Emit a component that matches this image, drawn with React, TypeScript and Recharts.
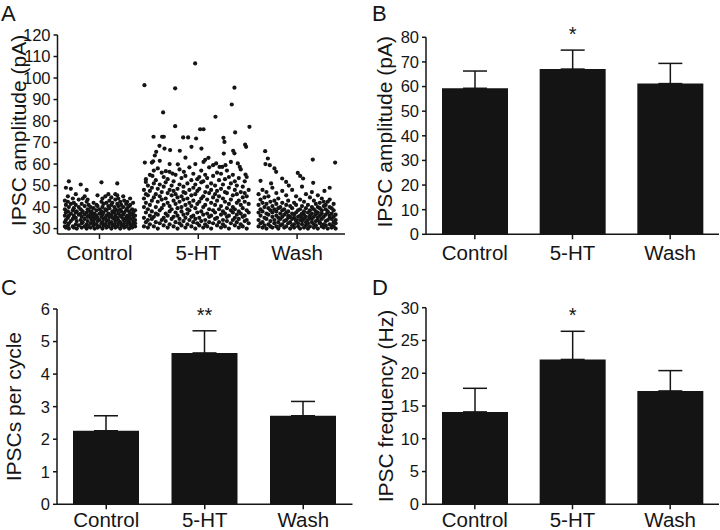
import React from 'react'
import { ScatterChart, Scatter, BarChart, Bar, XAxis, YAxis, ErrorBar, LabelList } from 'recharts'

const FONT = '"Liberation Sans", Arial, Helvetica, sans-serif'
const INK = '#151515'

const groups = ['Control', '5-HT', 'Wash']

// Panel A: each row = [x position, IPSC amplitudes (pA) at that x]
const controlCols: [number, number[]][] = [
  [0.65, [31, 33, 36, 39, 43]],
  [0.66, [30.5, 34, 37.5, 41, 49]],
  [0.68, [31.5, 35, 38, 42.5, 45]],
  [0.69, [30, 32.5, 36, 40, 52]],
  [0.71, [33.5, 37, 41.5, 48.5]],
  [0.73, [31, 34.5, 38.5, 44]],
  [0.74, [30.5, 36, 39.5, 42]],
  [0.76, [32, 35, 37.5, 41, 46]],
  [0.77, [30, 33.5, 38]],
  [0.79, [31.5, 36.5, 40, 43.5]],
  [0.81, [34, 37, 39, 50.5]],
  [0.82, [30.5, 32.5, 35.5, 41.5]],
  [0.83, [33, 38, 44]],
  [0.85, [31, 34.5, 36.5, 40.5, 45]],
  [0.87, [30, 32, 37.5, 42.5, 48]],
  [0.88, [33.5, 35.5, 39, 43.5]],
  [0.89, [31, 36, 38.5, 41]],
  [0.91, [30.5, 32.5, 35, 37.5, 40]],
  [0.92, [34, 36.5, 38]],
  [0.94, [31.5, 33, 35.5, 39.5, 42]],
  [0.95, [30, 34.5, 37]],
  [0.97, [32, 36, 38.5, 41]],
  [0.98, [30.5, 33.5, 35, 40.5, 45.5]],
  [1.0, [31, 34, 37, 39]],
  [1.02, [32.5, 35.5, 38, 42.5, 51.5]],
  [1.03, [30, 33, 36.5, 40, 44]],
  [1.04, [31.5, 34.5, 37.5, 41.5]],
  [1.06, [32, 35, 39, 45]],
  [1.07, [30.5, 33.5, 36, 38.5, 42]],
  [1.09, [31, 34, 37, 40.5, 46]],
  [1.1, [32.5, 35.5, 39.5, 43]],
  [1.12, [30, 33, 36.5, 41, 44.5]],
  [1.13, [31.5, 35, 38, 42]],
  [1.15, [32, 34.5, 37.5, 40]],
  [1.16, [30.5, 33.5, 36, 39, 43.5, 46]],
  [1.18, [31, 35, 38.5, 41.5, 45.5, 51]],
  [1.19, [32.5, 34, 37, 40.5, 44]],
  [1.21, [30, 33, 36, 39, 42.5]],
  [1.22, [31.5, 35.5, 38, 41]],
  [1.24, [32, 34.5, 36.5, 40, 45]],
  [1.25, [30.5, 33.5, 37.5, 43]],
  [1.27, [31, 35, 38.5, 41.5]],
  [1.28, [32.5, 34, 36, 39.5, 42.5]],
  [1.3, [30, 33, 35.5, 38, 40.5]],
  [1.31, [31.5, 34.5, 37, 41, 44]],
  [1.33, [30.5, 32, 36.5, 39]],
  [1.34, [33.5, 35, 37.5, 42]],
  [1.36, [31, 32.5, 34, 36, 38.5]],
]

const htCols: [number, number[]][] = [
  [1.45, [31, 35, 40, 44, 48]],
  [1.47, [33, 37.5, 42, 46, 53]],
  [1.49, [30.5, 34, 39, 45.5, 50]],
  [1.51, [32, 36, 41, 47.5, 55]],
  [1.53, [34.5, 38, 43, 49]],
  [1.55, [31, 35.5, 44.5, 51, 57]],
  [1.57, [33, 37, 40, 46, 52.5]],
  [1.59, [30, 36.5, 42.5, 48.5, 58]],
  [1.61, [32.5, 38.5, 45, 50.5, 61.5]],
  [1.63, [34, 39.5, 43.5, 47, 56]],
  [1.65, [31.5, 35, 41, 49.5, 54]],
  [1.67, [33.5, 37, 44, 51.5]],
  [1.69, [30.5, 36, 42, 46.5, 53]],
  [1.71, [32, 38, 40.5, 48, 60]],
  [1.73, [34.5, 39, 45.5, 50]],
  [1.75, [31, 35.5, 43, 47.5, 52]],
  [1.77, [33, 37.5, 41.5, 46, 55]],
  [1.79, [30, 36, 39.5, 44.5, 48.5]],
  [1.81, [32.5, 34.5, 42.5, 50.5, 57.5]],
  [1.83, [31.5, 38, 40, 45, 53.5]],
  [1.85, [33.5, 36.5, 43.5, 47, 49.5]],
  [1.87, [30.5, 35, 41, 46.5, 54.5, 63]],
  [1.89, [32, 37, 39, 44, 51]],
  [1.91, [34, 38.5, 42, 48, 58.5]],
  [1.93, [31, 35.5, 40.5, 45.5, 52.5]],
  [1.95, [33, 36, 43, 49, 55.5]],
  [1.97, [30, 34.5, 39.5, 46, 50.5, 60]],
  [1.99, [32.5, 37.5, 41.5, 47.5, 53]],
  [2.01, [31.5, 35, 42.5, 48.5, 54]],
  [2.03, [33.5, 38, 44, 51.5, 57]],
  [2.05, [30.5, 36.5, 40, 45, 52]],
  [2.07, [32, 34, 41, 47, 55, 62]],
  [2.09, [31, 37, 43.5, 49.5, 53.5]],
  [2.11, [33, 35.5, 39, 46.5, 58.5]],
  [2.13, [30, 36, 42, 48, 51]],
  [2.15, [32.5, 38.5, 44.5, 54.5, 59.5]],
  [2.17, [34.5, 37.5, 41, 46, 50]],
  [2.19, [31.5, 35, 43, 47.5, 56]],
  [2.21, [33, 39, 45, 52.5]],
  [2.23, [30.5, 36.5, 40.5, 48.5, 55.5]],
  [2.25, [32, 34, 38, 44, 50.5]],
  [2.27, [31, 37, 42.5, 47, 53]],
  [2.29, [33.5, 35.5, 39.5, 46.5, 57]],
  [2.31, [30, 36, 41.5, 49, 54]],
  [2.33, [32.5, 38.5, 43.5, 51, 61]],
  [2.35, [34, 37.5, 40, 45.5, 55]],
  [2.37, [31.5, 35, 39, 48, 52]],
  [2.39, [33, 36.5, 42, 46, 50]],
  [2.41, [30.5, 34.5, 38, 43, 53.5]],
  [2.43, [32, 37, 41, 47, 57.5]],
  [2.45, [31, 35.5, 39.5, 44.5, 49.5]],
  [2.47, [33.5, 36, 42.5, 46.5, 52]],
  [2.49, [30, 34, 38.5, 45, 54]],
  [2.51, [32.5, 37.5, 41.5, 48]],
]

// sparse high-amplitude events during 5-HT
const htHigh: [number, number][] = [
  [1.455, 96.7], [1.968, 106.8], [1.766, 95.2], [2.366, 95.5], [2.339, 87.7],
  [1.644, 84], [2.174, 82], [1.766, 77.6], [2.019, 76.2], [2.053, 76.2],
  [2.518, 77.3], [2.373, 74.7], [1.547, 72.7], [1.634, 72.7], [1.651, 72.7],
  [1.847, 72.4], [1.897, 72.4], [1.978, 71.9], [2.255, 72.2], [2.265, 70.3],
  [1.931, 68], [2.032, 67.2], [2.474, 69], [2.484, 68], [1.607, 68.5],
  [1.658, 67.2], [1.574, 65.7], [1.56, 64], [1.715, 66.5], [1.813, 66.2],
  [2.258, 64.9], [2.353, 66.2], [2.366, 65], [1.459, 60.7], [1.53, 60.7],
  [1.543, 61.3], [1.793, 59.9], [1.854, 56.4], [2.103, 62.9], [2.053, 61],
  [2.181, 60.3], [2.215, 58.7], [2.242, 58.7], [2.275, 59.5], [2.4, 60.3],
  [2.42, 58.7], [2.478, 55.1], [1.671, 56.7], [1.708, 56.4], [1.739, 55.6],
  [1.536, 54.5], [1.469, 51.7],
]

const washCols: [number, number[]][] = [
  [2.61, [31, 34, 37.5, 41, 46]],
  [2.63, [32.5, 36, 39, 43.5]],
  [2.65, [30.5, 33, 38, 42, 48]],
  [2.67, [31.5, 35, 40, 44.5]],
  [2.69, [30, 34.5, 37, 41.5, 47]],
  [2.71, [32, 36.5, 39.5, 45]],
  [2.73, [31, 33.5, 38.5, 42.5]],
  [2.75, [30.5, 35.5, 37.5, 40.5, 49]],
  [2.77, [32.5, 34, 39, 43]],
  [2.79, [31, 36, 38, 41.5, 46.5]],
  [2.81, [30, 33, 35, 39.5, 44]],
  [2.83, [31.5, 34.5, 37, 40]],
  [2.85, [32, 35.5, 38.5, 42, 47.5]],
  [2.87, [30.5, 33.5, 36.5, 39]],
  [2.89, [31, 34, 37.5, 41, 45.5]],
  [2.91, [32.5, 35, 36, 38, 43]],
  [2.93, [30, 33, 35.5, 40.5]],
  [2.95, [31.5, 34.5, 37, 39.5, 48]],
  [2.97, [30.5, 32, 35, 36.5, 42]],
  [2.99, [33.5, 34, 37.5, 41, 45]],
  [3.01, [31, 32.5, 35.5, 38.5]],
  [3.03, [30, 34, 36, 39, 43.5]],
  [3.05, [32, 33.5, 35, 37, 40.5, 49.5]],
  [3.07, [30.5, 34.5, 36.5, 38, 42.5]],
  [3.09, [31.5, 33, 35.5, 39.5, 46]],
  [3.11, [30, 32.5, 34, 37.5, 41]],
  [3.13, [31, 35, 36, 38.5, 44.5]],
  [3.15, [33, 34.5, 37, 40, 47]],
  [3.17, [30.5, 32, 35.5, 39, 43]],
  [3.19, [31.5, 33.5, 36.5, 38, 41.5]],
  [3.21, [30, 34, 35, 37.5, 40, 45.5]],
  [3.23, [32.5, 33, 36, 39.5, 42]],
  [3.25, [31, 34.5, 37, 38.5, 44]],
  [3.27, [30.5, 32, 35.5, 40.5, 42.5]],
  [3.29, [31.5, 33.5, 36.5, 39, 41]],
  [3.31, [30, 34, 37.5, 38, 42.5]],
  [3.33, [32, 35, 36, 40, 43.5]],
  [3.35, [30.5, 31.5, 34.5, 37, 39.5]],
  [3.37, [31, 33, 35.5, 38.5, 41.5]],
  [3.39, [30, 32.5, 34, 36.5]],
]

const washHigh: [number, number][] = [
  [2.677, 66], [2.704, 62.6], [2.68, 60], [2.724, 59.5], [2.771, 58],
  [2.788, 56.4], [2.63, 52.2], [2.737, 51], [2.849, 53.3], [2.889, 51.7],
  [2.916, 50], [3.159, 62.1], [3.385, 60.7], [3.007, 55.9], [3.031, 54.5],
  [3.061, 53.3], [3.163, 51.3], [3.277, 47.5], [3.33, 49],
]

const ampTicks = [30, 40, 50, 60, 70, 80, 90, 100, 110, 120]

// Panels B-D: mean and upper SEM per condition
const ampMean = [59.3, 67.1, 61.2]
const ampSem = [7.0, 7.7, 8.2]
const ampSig = ['', '*', '']
const ampBarTicks = [0, 10, 20, 30, 40, 50, 60, 70, 80]

const cycMean = [2.26, 4.65, 2.72]
const cycSem = [0.46, 0.68, 0.44]
const cycSig = ['', '**', '']
const cycTicks = [0, 1, 2, 3, 4, 5, 6]

const freqMean = [14.1, 22.1, 17.3]
const freqSem = [3.6, 4.3, 3.1]
const freqSig = ['', '*', '']
const freqTicks = [0, 5, 10, 15, 20, 25, 30]

const cols2pts = (cols: [number, number[]][]) => cols.flatMap(([x, ys]) => ys.map(y => ({ x, y })))
const pairs2pts = (p: [number, number][]) => p.map(([x, y]) => ({ x, y }))

const barRows = (mean: number[], sem: number[], sig: string[]) =>
  groups.map((name, i) => ({ name, mean: mean[i], sem: sem[i], err: [0, sem[i]], sig: sig[i] }))

const axisLine = { stroke: INK, strokeWidth: 1.5 }
const xTick = { fill: INK, fontSize: 20.5, fontFamily: FONT }
const yTick = { fill: INK, fontSize: 16.5, fontFamily: FONT }

const Dot = (p: any) => <circle cx={p.cx} cy={p.cy} r={2.1} fill={INK} />

// rotated y-axis title, baseline at x
const yTitle = (text: string, x: number, fallbackCy: number, dy = 0) => (props: any) => {
  const vb = props.viewBox
  const cy = (vb && vb.height ? vb.y + vb.height / 2 : fallbackCy) + dy
  return (
    <text x={x} y={cy} transform={`rotate(-90 ${x} ${cy})`} textAnchor="middle"
      fontSize={21} fill={INK} fontFamily={FONT}>{text}</text>
  )
}

const Stars = (p: any) => {
  if (!p.value) return null
  return (
    <text x={p.x + p.width / 2} y={p.y - 9} textAnchor="middle" fontSize={20} fill={INK} fontFamily={FONT}>
      {p.value}
    </text>
  )
}

type BarPanelProps = {
  rows: any[]
  ticks: number[]
  title: string
  titleX: number
  titleDy?: number
  left: number
  top: number
  height: number
  margin: { top: number; right: number; bottom: number; left: number }
  xHeight: number
  xGap?: number
}

const BarPanel = ({ rows, ticks, title, titleX, titleDy = 0, left, top, height, margin, xHeight, xGap = 6 }: BarPanelProps) => (
  <div style={{ position: 'absolute', left, top }}>
    <BarChart width={360} height={height} data={rows} margin={margin} barSize={66}>
      <XAxis dataKey="name" interval={0} axisLine={axisLine} tickLine={axisLine}
        tickSize={5} tickMargin={xGap} tick={xTick} height={xHeight} />
      <YAxis type="number" domain={[ticks[0], ticks[ticks.length - 1]]} ticks={ticks} interval={0}
        allowDataOverflow width={50} axisLine={axisLine} tickLine={axisLine} tickSize={4} tickMargin={3}
        tick={yTick} label={{ content: yTitle(title, titleX, height / 2, titleDy) }} />
      <Bar dataKey="mean" stackId="s" fill="#141414" isAnimationActive={false}>
        <ErrorBar dataKey="err" direction="y" width={12} stroke={INK} strokeWidth={1.5} isAnimationActive={false} />
      </Bar>
      <Bar dataKey="sem" stackId="s" fill="none" isAnimationActive={false}>
        <LabelList dataKey="sig" content={Stars} />
      </Bar>
    </BarChart>
  </div>
)

const letters = [
  { t: 'A', x: 1, y: 20.5 },
  { t: 'B', x: 372, y: 20.5 },
  { t: 'C', x: 1, y: 295 },
  { t: 'D', x: 372, y: 295 },
]

export default function App() {
  return (
    <div style={{ position: 'absolute', left: 0, top: 0, width: 720, height: 530, background: '#fff', overflow: 'hidden' }}>
      {/* A: individual IPSC amplitudes */}
      <div style={{ position: 'absolute', left: 0, top: 0 }}>
        <ScatterChart width={360} height={270} margin={{ top: 35, right: 15, bottom: 0, left: 7.5 }}>
          <XAxis type="number" dataKey="x" domain={[0.575, 3.485]} ticks={[1, 2, 3]} interval={0}
            allowDataOverflow tickFormatter={(v: number) => groups[v - 1]} axisLine={axisLine} tickLine={axisLine}
            tickSize={5} tickMargin={6} tick={xTick} height={36} />
          <YAxis type="number" dataKey="y" domain={[27.5, 120]} ticks={ampTicks} interval={0} allowDataOverflow
            width={50} axisLine={axisLine} tickLine={axisLine} tickSize={4} tickMargin={3} tick={yTick}
            label={{ content: yTitle('IPSC amplitude (pA)', 25.5, 134, -4) }} />
          <Scatter data={cols2pts(controlCols)} shape={Dot} isAnimationActive={false} />
          <Scatter data={cols2pts(htCols)} shape={Dot} isAnimationActive={false} />
          <Scatter data={pairs2pts(htHigh)} shape={Dot} isAnimationActive={false} />
          <Scatter data={cols2pts(washCols)} shape={Dot} isAnimationActive={false} />
          <Scatter data={pairs2pts(washHigh)} shape={Dot} isAnimationActive={false} />
        </ScatterChart>
      </div>

      {/* B: mean amplitude */}
      <BarPanel rows={barRows(ampMean, ampSem, ampSig)} ticks={ampBarTicks} title="IPSC amplitude (pA)"
        titleX={32.5} titleDy={-4} left={360} top={0} height={270} xHeight={35.7}
        margin={{ top: 37.3, right: 1, bottom: 0, left: 16 }} />

      {/* C: IPSCs per cycle */}
      <BarPanel rows={barRows(cycMean, cycSem, cycSig)} ticks={cycTicks} title="IPSCs per cycle"
        titleX={21.5} left={0} top={270} height={260} xHeight={25.7} xGap={3}
        margin={{ top: 39, right: 7.5, bottom: 0, left: 7 }} />

      {/* D: IPSC frequency */}
      <BarPanel rows={barRows(freqMean, freqSem, freqSig)} ticks={freqTicks} title="IPSC frequency (Hz)"
        titleX={32.5} left={360} top={270} height={260} xHeight={25.7} xGap={3}
        margin={{ top: 37.7, right: 1, bottom: 0, left: 16 }} />

      <svg width={720} height={530} style={{ position: 'absolute', left: 0, top: 0, pointerEvents: 'none' }}>
        {letters.map(l => (
          <text key={l.t} x={l.x} y={l.y} fontSize={22} fill={INK} fontFamily={FONT}>{l.t}</text>
        ))}
      </svg>
    </div>
  )
}
